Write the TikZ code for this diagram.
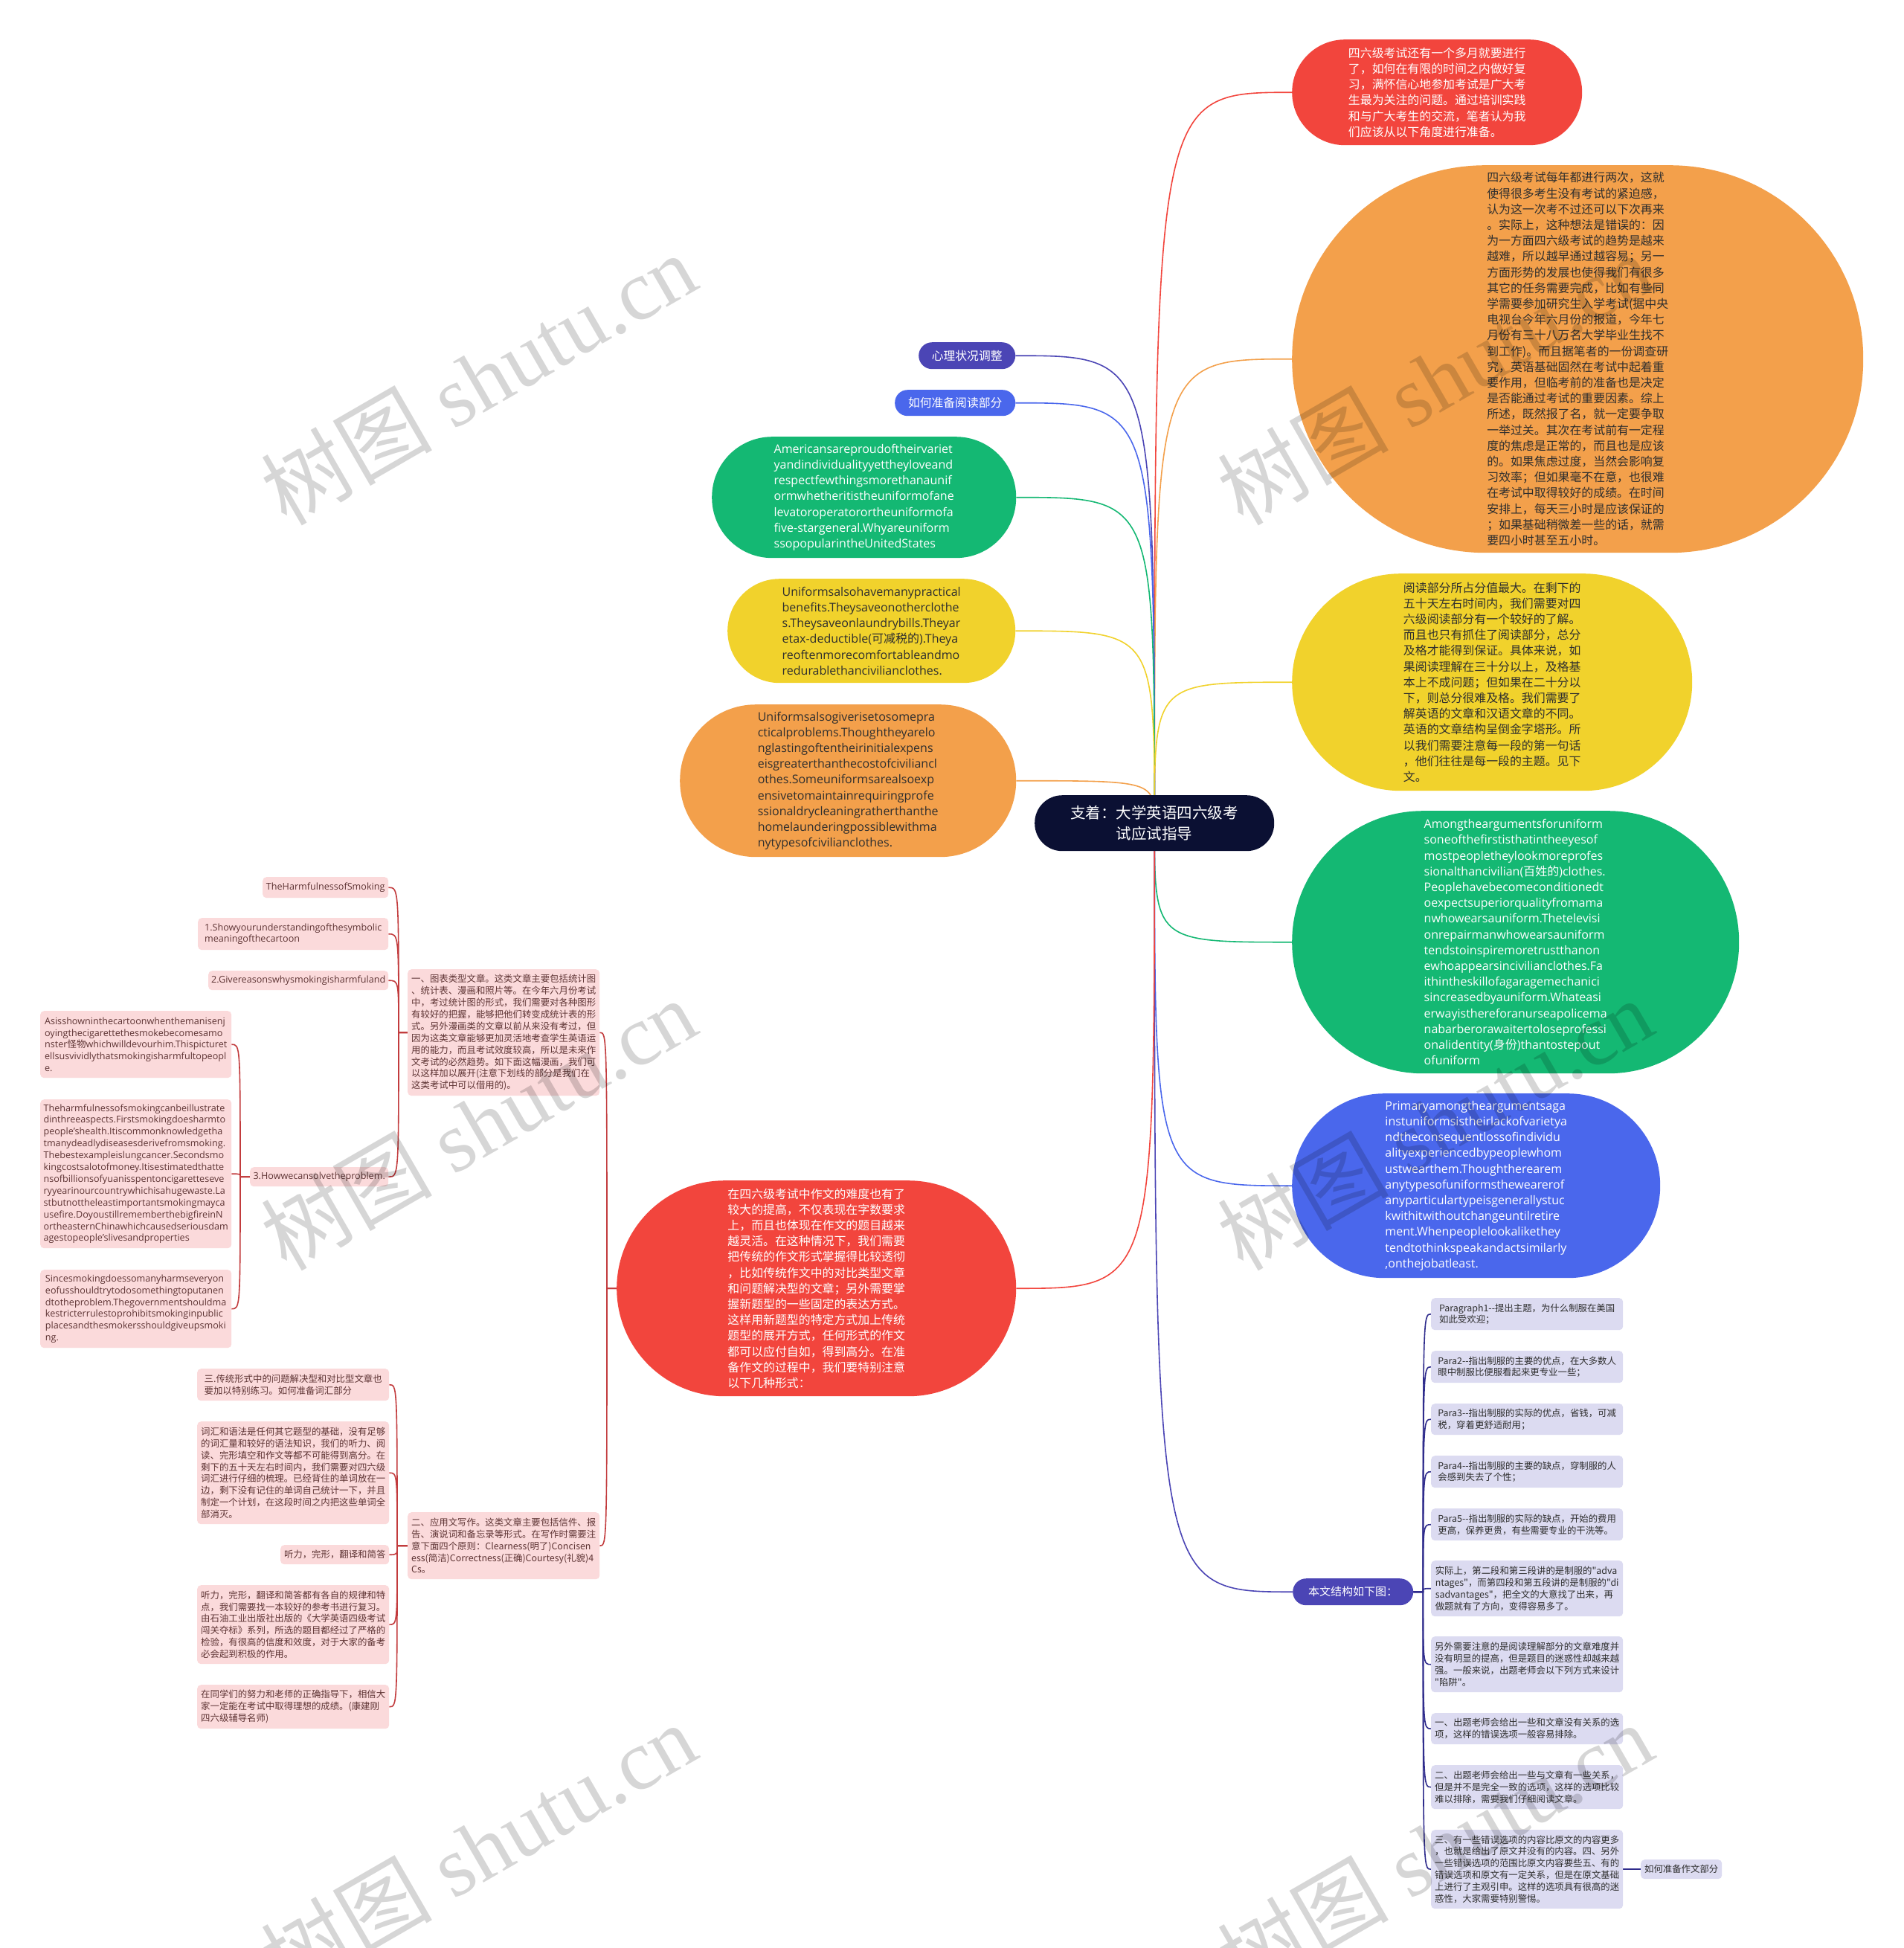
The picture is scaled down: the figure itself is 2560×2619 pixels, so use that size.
\documentclass[tikz,border=0pt]{standalone}
\usepackage{fontspec}
\setmainfont{Open Sans}
\newfontfamily\cjk{Noto Sans CJK SC}
\newfontfamily\wmfont{Liberation Serif}
\usetikzlibrary{backgrounds}

\definecolor{mapred}{HTML}{F2453D}
\definecolor{maporange}{HTML}{F3A04B}
\definecolor{mapyellow}{HTML}{F1D22C}
\definecolor{mapgreen}{HTML}{14B873}
\definecolor{mapblue}{HTML}{4A67EC}
\definecolor{mapindigo}{HTML}{4B45B5}
\definecolor{mapnavy}{HTML}{0B1033}
\definecolor{pinkfill}{HTML}{FBDADB}
\definecolor{pinkline}{HTML}{C23B3D}
\definecolor{pinktext}{HTML}{5E3434}
\definecolor{lavfill}{HTML}{DCDBF1}
\definecolor{lavline}{HTML}{2F2C8C}
\definecolor{darktext}{HTML}{2E2E2E}

\tikzset{
  bubble/.style={anchor=north west, rounded corners=#1, align=left, inner sep=0pt},
  wh/.style 2 args={minimum width=#1pt, minimum height=#2pt},
  cnbig/.style={font=\cjk\fontsize{15.9}{21.2}\selectfont},
  enbig/.style={font=\fontsize{16}{21.2}\selectfont},
  pinkbox/.style={anchor=north west, fill=pinkfill, text=pinktext, rounded corners=5pt, align=left, inner sep=0pt},
  lavbox/.style={anchor=north west, fill=lavfill, text=darktext, rounded corners=5pt, align=left, inner sep=0pt},
  cnsmall/.style={font=\cjk\fontsize{12.4}{15.9}\selectfont},
  ensmall/.style={font=\fontsize{12.6}{15.9}\selectfont},
  link/.style={line width=1.6pt},
  wm/.style={rotate=30, text=black, text opacity=0.16, inner sep=0pt, font=\wmfont\fontsize{115}{115}\selectfont}
}

\begin{document}
\begin{tikzpicture}[x=1pt,y=-1pt]
\useasboundingbox (0,0) rectangle (2560,2619);

% centre
\node[bubble=37pt, wh={322}{75}, fill=mapnavy, text=white, align=center, font=\cjk\fontsize{20.5}{28}\selectfont] (root) at (1391,1069) {支着：大学英语四六级考\\试应试指导};

% droite
\node[bubble=71pt, wh={390}{142}, fill=mapred, text=white, cnbig] (intro) at (1737,53) {四六级考试还有一个多月就要进行\\了，如何在有限的时间之内做好复\\习，满怀信心地参加考试是广大考\\生最为关注的问题。通过培训实践\\和与广大考生的交流，笔者认为我\\们应该从以下角度进行准备。};

\node[bubble=260pt, wh={768}{521}, fill=maporange, text=darktext, cnbig] (tips) at (1737,222) {四六级考试每年都进行两次，这就\\使得很多考生没有考试的紧迫感，\\认为这一次考不过还可以下次再来\\。实际上，这种想法是错误的：因\\为一方面四六级考试的趋势是越来\\越难，所以越早通过越容易；另一\\方面形势的发展也使得我们有很多\\其它的任务需要完成，比如有些同\\学需要参加研究生入学考试(据中央\\电视台今年六月份的报道，今年七\\月份有三十八万名大学毕业生找不\\到工作)。而且据笔者的一份调查研\\究，英语基础固然在考试中起着重\\要作用，但临考前的准备也是决定\\是否能通过考试的重要因素。综上\\所述，既然报了名，就一定要争取\\一举过关。其次在考试前有一定程\\度的焦虑是正常的，而且也是应该\\的。如果焦虑过度，当然会影响复\\习效率；但如果毫不在意，也很难\\在考试中取得较好的成绩。在时间\\安排上，每天三小时是应该保证的\\；如果基础稍微差一些的话，就需\\要四小时甚至五小时。};

\node[bubble=146pt, wh={538}{292}, fill=mapyellow, text=darktext, cnbig] (readpart) at (1737,771) {阅读部分所占分值最大。在剩下的\\五十天左右时间内，我们需要对四\\六级阅读部分有一个较好的了解。\\而且也只有抓住了阅读部分，总分\\及格才能得到保证。具体来说，如\\果阅读理解在三十分以上，及格基\\本上不成问题；但如果在二十分以\\下，则总分很难及格。我们需要了\\解英语的文章和汉语文章的不同。\\英语的文章结构呈倒金字塔形。所\\以我们需要注意每一段的第一句话\\，他们往往是每一段的主题。见下\\文。};

\node[bubble=176pt, wh={601}{353}, fill=mapgreen, text=white, enbig] (proarg) at (1737,1090) {Amongtheargumentsforuniform\\soneofthefirstisthatintheeyesof\\mostpeopletheylookmoreprofes\\sionalthancivilian({\cjk 百姓的})clothes.\\Peoplehavebecomeconditionedt\\oexpectsuperiorqualityfromama\\nwhowearsauniform.Thetelevisi\\onrepairmanwhowearsauniform\\tendstoinspiremoretrustthanon\\ewhoappearsincivilianclothes.Fa\\ithintheskillofagaragemechanici\\sincreasedbyauniform.Whateasi\\erwayisthereforanurseapolicema\\nabarberorawaitertoloseprofessi\\onalidentity({\cjk 身份})thantostepout\\ofuniform};

\node[bubble=124pt, wh={495}{248}, fill=mapblue, text=white, enbig] (conarg) at (1737,1470) {Primaryamongtheargumentsaga\\instuniformsistheirlackofvarietya\\ndtheconsequentlossofindividu\\alityexperiencedbypeoplewhom\\ustwearthem.Thoughtherearem\\anytypesofuniformsthewearerof\\anyparticulartypeisgenerallystuc\\kwithitwithoutchangeuntilretire\\ment.Whenpeoplelookalikethey\\tendtothinkspeakandactsimilarly\\,onthejobatleast.};

\node[bubble=18pt, wh={162}{36}, fill=mapindigo, text=white, align=center, font=\cjk\fontsize{15}{18}\selectfont] (struct) at (1738,2122) {本文结构如下图：};

% gauche
\node[bubble=18pt, wh={130}{36}, fill=mapindigo, text=white, align=center, font=\cjk\fontsize{15.8}{18}\selectfont] (mind) at (1235,460) {心理状况调整};
\node[bubble=17pt, wh={162}{35}, fill=mapblue, text=white, align=center, font=\cjk\fontsize{15.8}{18}\selectfont] (howread) at (1203,524) {如何准备阅读部分};

\node[bubble=81pt, wh={409}{163}, fill=mapgreen, text=white, enbig] (usa) at (957,587) {Americansareproudoftheirvariet\\yandindividualityyettheyloveand\\respectfewthingsmorethanaunif\\ormwhetheritistheuniformofane\\levatoroperatorortheuniformofa\\five-stargeneral.Whyareuniform\\ssopopularintheUnitedStates};

\node[bubble=70pt, wh={387}{140}, fill=mapyellow, text=darktext, enbig] (benefit) at (978,778) {Uniformsalsohavemanypractical\\benefits.Theysaveonotherclothe\\s.Theysaveonlaundrybills.Theyar\\etax-deductible({\cjk 可减税的}).Theya\\reoftenmorecomfortableandmo\\redurablethancivilianclothes.};

\node[bubble=102pt, wh={452}{205}, fill=maporange, text=darktext, enbig] (problem) at (914,947) {Uniformsalsogiverisetosomepra\\cticalproblems.Thoughtheyarelo\\nglastingoftentheirinitialexpens\\eisgreaterthanthecostofciviliancl\\othes.Someuniformsarealsoexp\\ensivetomaintainrequiringprofe\\ssionaldrycleaningratherthanthe\\homelaunderingpossiblewithma\\nytypesofcivilianclothes.};

\node[bubble=145pt, wh={537}{290}, fill=mapred, text=white, cnbig] (writing) at (829,1587) {在四六级考试中作文的难度也有了\\较大的提高，不仅表现在字数要求\\上，而且也体现在作文的题目越来\\越灵活。在这种情况下，我们需要\\把传统的作文形式掌握得比较透彻\\，比如传统作文中的对比类型文章\\和问题解决型的文章；另外需要掌\\握新题型的一些固定的表达方式。\\这样用新题型的特定方式加上传统\\题型的展开方式，任何形式的作文\\都可以应付自如，得到高分。在准\\备作文的过程中，我们要特别注意\\以下几种形式：};

% rose
\node[pinkbox, wh={258}{170}, cnsmall] (yi) at (548,1303) {一、图表类型文章。这类文章主要包括统计图\\、统计表、漫画和照片等。在今年六月份考试\\中，考过统计图的形式，我们需要对各种图形\\有较好的把握，能够把他们转变成统计表的形\\式。另外漫画类的文章以前从来没有考过，但\\因为这类文章能够更加灵活地考查学生英语运\\用的能力，而且考试效度较高，所以是未来作\\文考试的必然趋势。如下面这幅漫画，我们可\\以这样加以展开(注意下划线的部分是我们在\\这类考试中可以借用的)。};
\node[pinkbox, wh={169}{28}, ensmall] (ths) at (353,1179) {TheHarmfulnessofSmoking};
\node[pinkbox, wh={256}{43}, ensmall] (show) at (266,1234) {1.Showyourunderstandingofthesymbolic\\meaningofthecartoon};
\node[pinkbox, wh={242}{26}, ensmall] (give) at (280,1305) {2.Givereasonswhysmokingisharmfuland};
\node[pinkbox, wh={186}{26}, ensmall] (how3) at (336,1569) {3.Howwecansolvetheproblem.};
\node[pinkbox, wh={257}{90}, ensmall] (asis) at (54,1359) {Asisshowninthecartoonwhenthemanisenj\\oyingthecigarettethesmokebecomesamo\\nster{\cjk 怪物}whichwilldevourhim.Thispicturet\\ellsusvividlythatsmokingisharmfultopeopl\\e.};
\node[pinkbox, wh={257}{200}, ensmall] (harm) at (54,1478) {Theharmfulnessofsmokingcanbeillustrate\\dinthreeaspects.Firstsmokingdoesharmto\\people'shealth.Itiscommonknowledgetha\\tmanydeadlydiseasesderivefromsmoking.\\Thebestexampleislungcancer.Secondsmo\\kingcostsalotofmoney.Itisestimatedthatte\\nsofbillionsofyuanisspentoncigaretteseve\\ryyearinourcountrywhichisahugewaste.La\\stbutnottheleastimportantsmokingmayca\\usefire.DoyoustillrememberthebigfireinN\\ortheasternChinawhichcausedseriousdam\\agestopeople'slivesandproperties};
\node[pinkbox, wh={257}{105}, ensmall] (since) at (54,1707) {Sincesmokingdoessomanyharmseveryon\\eofusshouldtrytodosomethingtoputanen\\dtotheproblem.Thegovernmentshouldma\\kestricterrulestoprohibitsmokinginpublic\\placesandthesmokersshouldgiveupsmoki\\ng.};

\node[pinkbox, wh={258}{90}, cnsmall] (er) at (548,2033) {二、应用文写作。这类文章主要包括信件、报\\告、演说词和备忘录等形式。在写作时需要注\\意下面四个原则：Clearness(明了)Concisen\\ess(简洁)Correctness(正确)Courtesy(礼貌)4\\Cs。};
\node[pinkbox, wh={258}{43}, cnsmall] (san) at (265,1840) {三.传统形式中的问题解决型和对比型文章也\\要加以特别练习。如何准备词汇部分};
\node[pinkbox, wh={258}{138}, cnsmall] (vocab) at (265,1911) {词汇和语法是任何其它题型的基础，没有足够\\的词汇量和较好的语法知识，我们的听力、阅\\读、完形填空和作文等都不可能得到高分。在\\剩下的五十天左右时间内，我们需要对四六级\\词汇进行仔细的梳理。已经背住的单词放在一\\边，剩下没有记住的单词自己统计一下，并且\\制定一个计划，在这段时间之内把这些单词全\\部消灭。};
\node[pinkbox, wh={146}{26}, cnsmall] (listen) at (377,2077) {听力，完形，翻译和简答};
\node[pinkbox, wh={258}{106}, cnsmall] (listenlong) at (265,2131) {听力，完形，翻译和简答都有各自的规律和特\\点，我们需要找一本较好的参考书进行复习。\\由石油工业出版社出版的《大学英语四级考试\\闯关夺标》系列，所选的题目都经过了严格的\\检验，有很高的信度和效度，对于大家的备考\\必会起到积极的作用。};
\node[pinkbox, wh={258}{59}, cnsmall] (final) at (265,2265) {在同学们的努力和老师的正确指导下，相信大\\家一定能在考试中取得理想的成绩。(康建刚\\四六级辅导名师)};

% lavande
\node[lavbox, wh={258}{43}, cnsmall] (p1) at (1924,1745) {Paragraph1-{}-提出主题，为什么制服在美国\\如此受欢迎；};
\node[lavbox, wh={258}{43}, cnsmall] (p2) at (1924,1816) {Para2-{}-指出制服的主要的优点，在大多数人\\眼中制服比便服看起来更专业一些；};
\node[lavbox, wh={258}{42}, cnsmall] (p3) at (1924,1887) {Para3-{}-指出制服的实际的优点，省钱，可减\\税，穿着更舒适耐用；};
\node[lavbox, wh={258}{43}, cnsmall] (p4) at (1924,1957) {Para4-{}-指出制服的主要的缺点，穿制服的人\\会感到失去了个性；};
\node[lavbox, wh={258}{43}, cnsmall] (p5) at (1924,2028) {Para5-{}-指出制服的实际的缺点，开始的费用\\更高，保养更贵，有些需要专业的干洗等。};
\node[lavbox, wh={258}{75}, cnsmall] (fact) at (1924,2098) {实际上，第二段和第三段讲的是制服的"adva\\ntages"，而第四段和第五段讲的是制服的"di\\sadvantages"，把全文的大意找了出来，再\\做题就有了方向，变得容易多了。};
\node[lavbox, wh={258}{75}, cnsmall] (trap) at (1924,2200) {另外需要注意的是阅读理解部分的文章难度并\\没有明显的提高，但是题目的迷惑性却越来越\\强。一般来说，出题老师会以下列方式来设计\\"陷阱"。};
\node[lavbox, wh={258}{42}, cnsmall] (opt1) at (1924,2303) {一、出题老师会给出一些和文章没有关系的选\\项，这样的错误选项一般容易排除。};
\node[lavbox, wh={258}{59}, cnsmall] (opt2) at (1924,2373) {二、出题老师会给出一些与文章有一些关系，\\但是并不是完全一致的选项，这样的选项比较\\难以排除，需要我们仔细阅读文章。};
\node[lavbox, wh={258}{106}, cnsmall] (opt3) at (1924,2460) {三、有一些错误选项的内容比原文的内容更多\\，也就是给出了原文并没有的内容。四、另外\\一些错误选项的范围比原文内容要些五、有的\\错误选项和原文有一定关系，但是在原文基础\\上进行了主观引申。这样的选项具有很高的迷\\惑性，大家需要特别警惕。};
\node[lavbox, wh={109}{26}, cnsmall] (howwrite) at (2206,2500) {如何准备作文部分};

\begin{pgfonlayer}{background}
\fill[white] (0,0) rectangle (2560,2619);
% branches du centre
\foreach \n/\c in {intro/mapred, tips/maporange, readpart/mapyellow, proarg/mapgreen, conarg/mapblue, struct/mapindigo}
  \draw[link, draw=\c] (root.center) .. controls (root.center |- \n.west) .. (\n.west);
\foreach \n/\c in {mind/mapindigo, howread/mapblue, usa/mapgreen, benefit/mapyellow, problem/maporange, writing/mapred}
  \draw[link, draw=\c] (root.center) .. controls (root.center |- \n.east) .. (\n.east);
% sous-branches
\coordinate (wt) at ([xshift=-13pt]writing.west);
\foreach \n in {yi, er}
  \draw[link, pinkline] (writing.west) -- (wt) .. controls (wt |- \n.east) .. (\n.east);
\coordinate (yt) at ([xshift=-12pt]yi.west);
\foreach \n in {ths, show, give, how3}
  \draw[link, pinkline] (yi.west) -- (yt) .. controls (yt |- \n.east) .. (\n.east);
\coordinate (ht) at ([xshift=-13pt]how3.west);
\foreach \n in {asis, harm, since}
  \draw[link, pinkline] (how3.west) -- (ht) .. controls (ht |- \n.east) .. (\n.east);
\coordinate (et) at ([xshift=-14pt]er.west);
\foreach \n in {san, vocab, listen, listenlong, final}
  \draw[link, pinkline] (er.west) -- (et) .. controls (et |- \n.east) .. (\n.east);
\coordinate (st) at ([xshift=13pt]struct.east);
\foreach \n in {p1, p2, p3, p4, p5, fact, trap, opt1, opt2, opt3}
  \draw[link, lavline] (struct.east) -- (st) .. controls (st |- \n.west) .. (\n.west);
\draw[link, lavline] (opt3.east) -- (howwrite.west);
\end{pgfonlayer}

% filigrane
\foreach \p [count=\i] in {{643,509},{1929,509},{643,1511},{1929,1511},{643,2485},{1929,2485}}
  \node[wm] (wm\i) at (\p) {{\cjk 树图} shutu.cn};
\end{tikzpicture}
\end{document}
